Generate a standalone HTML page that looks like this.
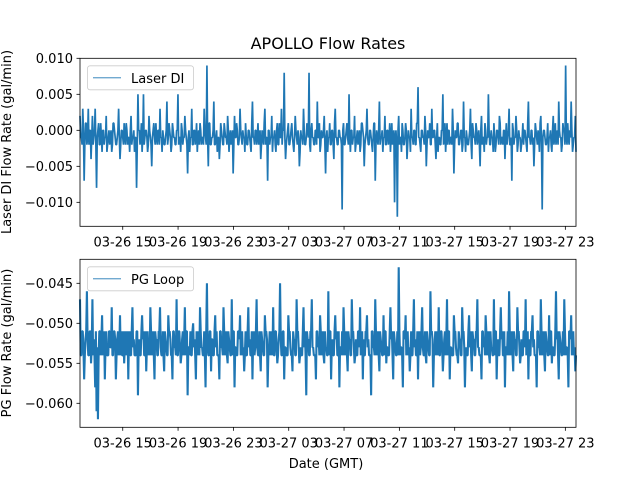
<!DOCTYPE html>
<html><head><meta charset="utf-8"><style>
body{margin:0;background:#fff}
svg{display:block;font-family:"DejaVu Sans","Liberation Sans",sans-serif}
</style></head><body>
<svg id="chart" width="640" height="480" viewBox="0 0 640 480">
<rect width="640" height="480" fill="#fff"/>
<text x="328" y="49" font-size="16" text-anchor="middle">APOLLO Flow Rates</text>
<g id="top"></g><g id="bot"></g>
<text x="326" y="468" font-size="13" text-anchor="middle">Date (GMT)</text>
<text transform="translate(11,142) rotate(-90)" font-size="13" text-anchor="middle">Laser DI Flow Rate (gal/min)</text>
<text transform="translate(11,343) rotate(-90)" font-size="13" text-anchor="middle">PG Flow Rate (gal/min)</text>
</svg>
<script>
// time in hours from 03-26 00:00 GMT
const startHour = 11.91;
const endHour = 47.77;
const xTickHours = [15, 19, 23, 27, 31, 35, 39, 43, 47];
const xTickLabels = ["03-26 15","03-26 19","03-26 23","03-27 03","03-27 07","03-27 11","03-27 15","03-27 19","03-27 23"];
// flow values in thousandths of gal/min
const laserDI = [
2,-1,-1,-2,3,0,-7,-2,1,1,-2,-1,3,-2,0,0,-4,-1,2,-2,
-1,0,3,-2,-8,-1,0,1,-2,-2,1,-1,-3,0,0,-2,-1,-1,2,-3,
-2,-1,0,-2,-1,0,-3,-2,1,1,0,-1,-2,-2,-1,0,3,-1,-4,-2,
0,0,-1,-2,1,-1,-2,1,0,-2,-1,-1,-3,0,2,-2,-1,-1,0,-3,
-1,-1,-8,-2,5,0,0,-2,-1,1,-3,-1,5,-2,-1,0,0,-1,-3,-2,
2,0,-1,-2,-5,-1,0,1,-1,-2,1,-1,-2,0,0,-2,3,-1,-1,-3,
0,-1,-2,-2,-1,0,4,-2,-1,1,0,-1,-3,-2,1,0,-1,-1,-2,-2,
0,0,5,-2,-1,-1,-3,1,0,-2,-1,-1,2,0,-1,-2,-6,-1,0,-3,
-1,-1,3,-2,-2,0,0,-2,-1,1,-3,-1,0,-2,1,0,-2,-1,-1,-2,
3,0,-1,-2,9,-1,-5,1,1,-2,-2,-1,-1,0,4,-2,-2,-1,0,-3,
-1,-1,-4,-2,1,0,-1,-2,-2,1,0,-1,-1,-2,2,0,-3,-1,0,-2,
-1,0,-6,-2,2,-1,-1,1,0,-2,-2,-1,3,0,-1,-2,0,-1,-1,-3,
1,-1,-2,-2,0,0,-1,-2,-3,1,4,-1,-1,-2,0,0,-2,-1,1,-2,
-1,0,-4,-2,0,-1,-2,1,3,-2,-1,-1,-7,0,0,-2,-1,-1,2,-3,
-1,-1,0,-2,-3,0,1,-2,-2,1,-1,-1,3,-2,0,0,8,-1,-4,-2,
-1,0,1,-2,-2,-1,0,1,-1,-2,-3,-1,2,0,-1,-2,0,-1,-5,-3,
0,-1,-1,-2,3,0,-2,-2,-1,1,0,-1,8,-2,-3,0,1,-1,-1,-2,
-2,0,0,-2,4,-1,-1,1,-3,-2,0,-1,-1,0,2,-2,-6,-1,0,-3,
-1,-1,1,-2,-2,0,0,-2,-4,1,3,-1,-1,-2,-2,0,0,-1,-1,-2,
-11,0,1,-2,-2,-1,0,1,-1,-2,5,-1,-3,0,0,-2,-1,-1,2,-3,
-2,-1,0,-2,-1,0,-3,-2,1,1,0,-1,-5,-2,-1,0,3,-1,-2,-2,
0,0,-1,-2,-3,-1,1,1,-7,-2,0,-1,-2,0,4,-2,-1,-1,0,-3,
-1,-1,2,-2,-2,0,0,-2,-1,1,-3,-1,1,-2,-1,0,-10,-1,0,-2,
-12,0,2,-2,-1,-1,-3,1,0,-2,-2,-1,1,0,-4,-2,0,-1,-1,-3,
3,-1,-1,-2,0,0,-2,-2,1,1,6,-1,-1,-2,-3,0,0,-1,-1,-2,
2,0,-5,-2,0,-1,-1,1,-2,-2,3,-1,-1,0,0,-2,-4,-1,1,-3,
-1,-1,-2,-2,0,0,5,-2,-1,1,-3,-1,1,-2,0,0,-2,-1,-1,-2,
3,0,-6,-2,0,-1,-1,1,1,-2,-2,-1,0,0,-3,-2,4,-1,-1,-3,
0,-1,-2,-2,-1,0,3,-2,-4,1,0,-1,-1,-2,1,0,-2,-1,0,-2,
-5,0,2,-2,-1,-1,-3,1,0,-2,-1,-1,5,0,-2,-2,0,-1,-1,-3,
1,-1,-3,-2,0,0,-1,-2,2,1,-2,-1,-1,-2,0,0,-4,-1,1,-2,
-1,0,3,-2,-2,-1,-7,1,0,-2,-1,-1,2,0,-3,-2,0,-1,-1,-3,
-2,-1,1,-2,0,0,-1,-2,-3,1,4,-1,-1,-2,0,0,-2,-1,-5,-2,
1,0,-1,-2,0,-1,-3,1,2,-2,-11,-1,0,0,-1,-2,-2,-1,1,-3,
-1,-1,0,-2,-3,0,2,-2,-1,1,-2,-1,0,-2,4,0,-1,-1,-3,-2,
1,0,0,-2,9,-1,-2,1,-1,-2,0,-1,4,0,-3,-2,-1,-1,2,-3];
const pgLoop = [
-47,-54,-54,-51,-51,-53,-57,-54,-52,-51,-46,-52,-54,-54,-51,-51,-55,-53,-47,-54,
-52,-54,-58,-51,-61,-53,-62,-54,-51,-51,-54,-52,-49,-54,-52,-51,-57,-53,-51,-54,
-54,-54,-51,-51,-53,-53,-48,-54,-54,-51,-51,-52,-57,-54,-52,-51,-54,-53,-49,-54,
-51,-54,-54,-51,-55,-53,-51,-54,-53,-51,-57,-52,-51,-54,-54,-51,-48,-53,-52,-54,
-54,-54,-51,-51,-59,-53,-52,-54,-54,-51,-49,-52,-51,-54,-54,-51,-56,-53,-51,-54,
-53,-54,-48,-51,-54,-53,-51,-54,-57,-51,-52,-52,-54,-54,-51,-51,-48,-53,-54,-54,
-51,-54,-56,-51,-52,-53,-54,-54,-49,-51,-51,-52,-54,-54,-57,-51,-51,-53,-53,-54,
-47,-54,-54,-51,-51,-53,-55,-54,-52,-51,-54,-52,-48,-54,-51,-51,-59,-53,-53,-54,
-51,-54,-54,-51,-50,-53,-52,-54,-57,-51,-54,-52,-51,-54,-48,-51,-53,-53,-54,-54,
-51,-54,-58,-51,-45,-53,-54,-54,-51,-51,-56,-52,-52,-54,-54,-51,-49,-53,-51,-54,
-54,-54,-57,-51,-51,-53,-53,-54,-48,-51,-54,-52,-51,-54,-55,-51,-52,-53,-54,-54,
-47,-54,-51,-51,-58,-53,-53,-54,-54,-51,-51,-52,-49,-54,-52,-51,-54,-53,-56,-54,
-51,-54,-54,-51,-48,-53,-52,-54,-54,-51,-57,-52,-51,-54,-53,-51,-47,-53,-54,-54,
-51,-54,-56,-51,-52,-53,-54,-54,-49,-51,-51,-52,-58,-54,-53,-51,-54,-53,-51,-54,
-48,-54,-54,-51,-51,-53,-55,-54,-52,-51,-45,-52,-54,-54,-51,-51,-57,-53,-53,-54,
-54,-54,-49,-51,-51,-53,-54,-54,-56,-51,-52,-52,-54,-54,-47,-51,-51,-53,-55,-54,
-53,-54,-54,-51,-48,-53,-51,-54,-59,-51,-52,-52,-54,-54,-51,-51,-47,-53,-53,-54,
-54,-54,-57,-51,-51,-53,-52,-54,-49,-51,-54,-52,-51,-54,-55,-51,-53,-53,-54,-54,
-46,-54,-51,-51,-57,-53,-52,-54,-54,-51,-49,-52,-51,-54,-54,-51,-58,-53,-53,-54,
-51,-54,-48,-51,-54,-53,-51,-54,-56,-51,-52,-52,-54,-54,-47,-51,-51,-53,-55,-54,
-52,-54,-54,-51,-51,-53,-48,-54,-53,-51,-57,-52,-54,-54,-51,-51,-49,-53,-52,-54,
-54,-54,-59,-51,-51,-53,-53,-54,-47,-51,-54,-52,-51,-54,-56,-51,-52,-53,-54,-54,
-49,-54,-51,-51,-55,-53,-53,-54,-54,-51,-48,-52,-51,-54,-57,-51,-52,-53,-54,-54,
-51,-54,-43,-51,-54,-53,-53,-54,-58,-51,-51,-52,-49,-54,-52,-51,-54,-53,-56,-54,
-51,-54,-54,-51,-47,-53,-52,-54,-54,-51,-57,-52,-51,-54,-53,-51,-48,-53,-54,-54,
-51,-54,-55,-51,-52,-53,-54,-54,-46,-51,-51,-52,-58,-54,-53,-51,-54,-53,-51,-54,
-48,-54,-54,-51,-51,-53,-56,-54,-52,-51,-54,-52,-47,-54,-51,-51,-57,-53,-53,-54,
-54,-54,-49,-51,-51,-53,-54,-54,-55,-51,-52,-52,-54,-54,-48,-51,-51,-53,-58,-54,
-53,-54,-54,-51,-49,-53,-51,-54,-56,-51,-52,-52,-54,-54,-51,-51,-47,-53,-53,-54,
-54,-54,-57,-51,-51,-53,-52,-54,-49,-51,-54,-52,-51,-54,-55,-51,-53,-53,-54,-54,
-47,-54,-51,-51,-57,-53,-52,-54,-54,-51,-48,-52,-51,-54,-54,-51,-58,-53,-53,-54,
-51,-54,-46,-51,-54,-53,-51,-54,-56,-51,-52,-52,-54,-54,-48,-51,-51,-53,-55,-54,
-52,-54,-54,-51,-51,-53,-47,-54,-53,-51,-57,-52,-54,-54,-51,-51,-49,-53,-52,-54,
-54,-54,-58,-51,-51,-53,-53,-54,-47,-51,-54,-52,-51,-54,-56,-51,-52,-53,-54,-54,
-49,-54,-51,-51,-55,-53,-53,-54,-54,-51,-46,-52,-51,-54,-57,-51,-52,-53,-54,-54,
-51,-54,-47,-51,-54,-53,-53,-54,-58,-51,-51,-52,-49,-54,-52,-51,-54,-53,-56,-54];
const laserYTicks = [10, 5, 0, -5, -10];
const laserYLabels = ["0.010","0.005","0.000","\u22120.005","\u22120.010"];
const pgYTicks = [-45, -50, -55, -60];
const pgYLabels = ["\u22120.045","\u22120.050","\u22120.055","\u22120.060"];

const NS = "http://www.w3.org/2000/svg";
const L = 80, R = 576;
function mk(parent, tag, attrs) {
  const e = document.createElementNS(NS, tag);
  for (const k in attrs) e.setAttribute(k, attrs[k]);
  parent.appendChild(e);
  return e;
}
function xScale(h) { return L + (h - startHour) / (endHour - startHour) * (R - L); }

function panel(gid, top, bottom, yMin, yMax, values, yTicks, yLabels, legendText, prefix, sw) {
  const g = document.getElementById(gid);
  const y = v => bottom - (v - yMin) / (yMax - yMin) * (bottom - top);
  const n = values.length;
  const step = (endHour - startHour) / (n - 1);
  const pts = values.map((v, i) => xScale(startHour + i * step).toFixed(2) + "," + y(v).toFixed(2)).join(" ");
  const line = mk(g, "polyline", {points: pts, fill: "none", stroke: "#1f77b4", "stroke-width": sw, "stroke-linejoin": "miter", "stroke-miterlimit": 1});
  
  
  const frame = mk(g, "rect", {x: L, y: top, width: R - L, height: bottom - top, fill: "none", stroke: "#000", "stroke-width": 0.8});
  
  
  yTicks.forEach((t, i) => {
    const yy = y(t);
    const tk = mk(g, "line", {x1: L - 3.5, x2: L, y1: yy, y2: yy, stroke: "#000", "stroke-width": 0.8});
    
    
    const tx = mk(g, "text", {x: L - 7, y: yy + 4.5, "font-size": 13, "text-anchor": "end"});
    tx.textContent = yLabels[i];
    
    
  });
  xTickHours.forEach((h, i) => {
    const xx = xScale(h);
    const tk = mk(g, "line", {x1: xx, x2: xx, y1: bottom, y2: bottom + 3.5, stroke: "#000", "stroke-width": 0.8});
    
    
    const tx = mk(g, "text", {x: xx, y: bottom + 20, "font-size": 13, "text-anchor": "middle"});
    tx.textContent = xTickLabels[i];
    
    
  });
  const lg = mk(g, "g", {});
  
  
  mk(lg, "rect", {x: 87.5, y: top + 7.5, width: 106, height: 24, rx: 2.5, fill: "#fff", "fill-opacity": 0.8, stroke: "#ccc", "stroke-width": 0.8});
  mk(lg, "line", {x1: 93, x2: 121, y1: top + 19.5, y2: top + 19.5, stroke: "#1f77b4", "stroke-width": 0.8});
  const lt = mk(lg, "text", {x: 131, y: top + 24.5, "font-size": 13});
  lt.textContent = legendText;
  
  
}
panel("top", 58.3, 226.3, -13.33, 10.0, laserDI, laserYTicks, laserYLabels, "Laser DI", "laser", 1.7);
panel("bot", 259.3, 427.3, -63.0, -42.0, pgLoop, pgYTicks, pgYLabels, "PG Loop", "pg", 2.1);
</script>
</body></html>
